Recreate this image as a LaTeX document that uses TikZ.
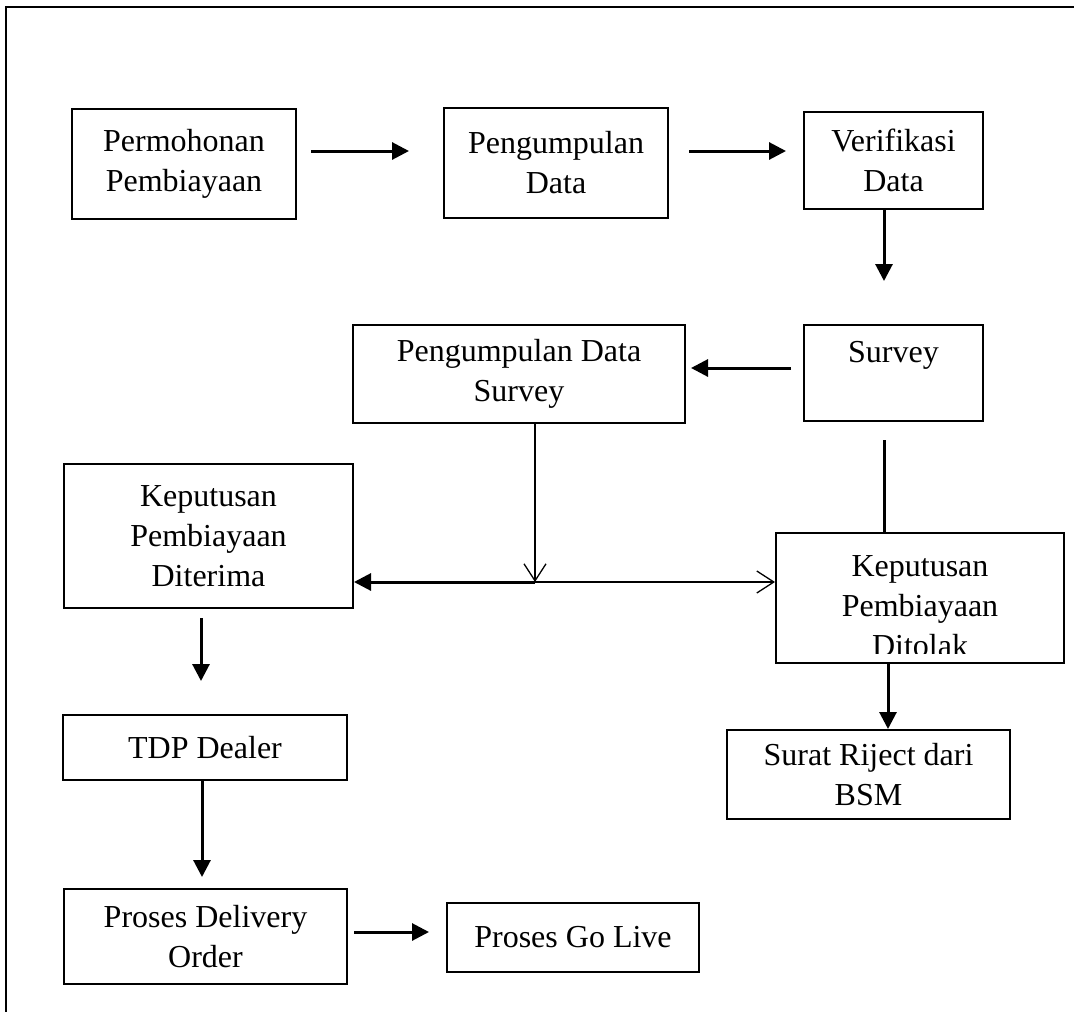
\documentclass[tikz,border=0pt]{standalone}
\usepackage{fontspec}
\setmainfont{Liberation Serif}
\usetikzlibrary{arrows.meta,calc}
\begin{document}
\begin{tikzpicture}[x=1pt,y=-1pt,
  box/.style={draw,line width=2pt,inner sep=0pt,align=center,
    font=\fontsize{32}{40}\selectfont},
  thickarrow/.style={line width=3pt,-{Triangle[length=17pt,width=17pt]}},
  thickline/.style={line width=3pt},
  thinarrow/.style={line width=1.3pt,-{Straight Barb[length=17pt,width=22pt,line width=1.3pt]}},
  lbl/.style={inner sep=0pt,align=center,font=\fontsize{32}{40}\selectfont}]
\useasboundingbox (0,0) rectangle (1074,1012);
% outer frame (top and left only)
\draw[line width=2.8pt] (6,1012) -- (6,7) -- (1074,7);
% boxes
\node[box,minimum width=224pt,minimum height=110pt] (perm) at (184,164) {Permohonan\\Pembiayaan};
\node[box,minimum width=224pt,minimum height=110pt] (peng) at (556,163) {Pengumpulan\\Data};
\node[box,minimum width=179pt,minimum height=97pt] (veri) at (893.5,160.5) {Verifikasi\\Data};
\node[box,minimum width=179pt,minimum height=96pt] (surv) at (893.5,373) {};
\node[lbl] (survtxt) at (893.5,355) {Survey};
\node[box,minimum width=332pt,minimum height=98pt] (pds) at (519,374) {Pengumpulan Data\\Survey};
\node[box,minimum width=289pt,minimum height=144pt] (dter) at (208.5,536) {Keputusan\\Pembiayaan\\Diterima};
\node[box,minimum width=288pt,minimum height=130pt] (dtol) at (920,598) {};
\begin{scope}
  \clip (776,533) rectangle (1064,653);
  \node[lbl] (dtoltxt) at (920,606) {Keputusan\\Pembiayaan\\Ditolak};
\end{scope}
\node[box,minimum width=284pt,minimum height=65pt] (tdp) at (205,747.5) {TDP Dealer};
\node[box,minimum width=283pt,minimum height=95pt] (pdo) at (205.5,936.5) {Proses Delivery\\Order};
\node[box,minimum width=252pt,minimum height=69pt] (live) at (573,937.5) {Proses Go Live};
\node[box,minimum width=283pt,minimum height=89pt] (surat) at (868.5,774.5) {Surat Riject dari\\BSM};
% connectors
\draw[thickarrow] ([xshift=14pt,yshift=13pt]perm.east) -- ([xshift=-34pt,yshift=12pt]peng.west);
\draw[thickarrow] ([xshift=20pt,yshift=12pt]peng.east) -- ([xshift=-17pt,yshift=9.5pt]veri.west);
\draw[thickarrow] ([xshift=-9.5pt]veri.south) -- ([xshift=-9.5pt,yshift=43pt]surv.north);
\draw[thickarrow] ([xshift=-12pt,yshift=5pt]surv.west) -- ([xshift=5pt,yshift=6pt]pds.east);
\draw[thickline] ([xshift=-9.5pt,yshift=-18pt]surv.south) -- ([xshift=-36pt]dtol.north);
\coordinate (jn) at (535,582);
\draw[thinarrow] ([xshift=16pt]pds.south) -- (jn);
\draw[thickarrow] (jn) -- (jn -| dter.east);
\draw[thinarrow] (jn) -- (jn -| dtol.west);
\draw[thickarrow] ([xshift=-7.5pt,yshift=-9pt]dter.south) -- ([xshift=-4pt,yshift=33pt]tdp.north);
\draw[thickarrow] ([xshift=-3pt]tdp.south) -- ([xshift=-3.5pt,yshift=11pt]pdo.north);
\draw[thickarrow] ([xshift=6pt,yshift=4.5pt]pdo.east) -- ([xshift=-17pt,yshift=5.5pt]live.west);
\draw[thickarrow] ([xshift=-32pt]dtol.south) -- ([xshift=19.5pt]surat.north);
\end{tikzpicture}
\end{document}
